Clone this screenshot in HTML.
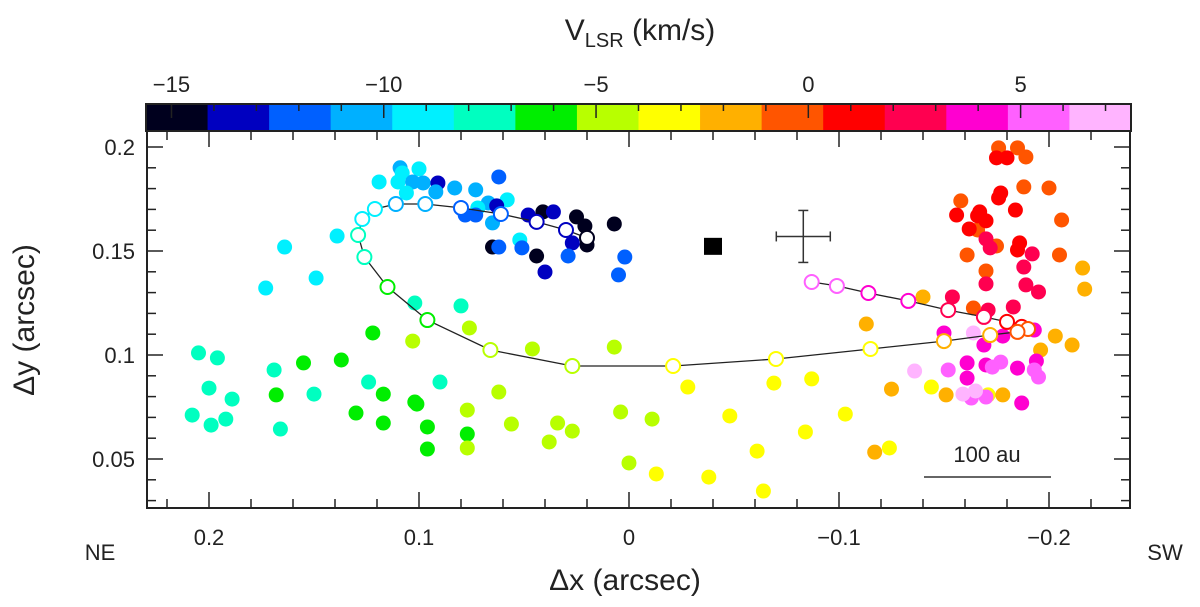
<!DOCTYPE html>
<html><head><meta charset="utf-8"><style>
html,body{margin:0;padding:0;background:#fff;}
svg{display:block;font-family:"Liberation Sans",sans-serif;}
</style></head><body>
<svg id="chart" width="1200" height="607" viewBox="0 0 1200 607" xmlns="http://www.w3.org/2000/svg">
<g id="cbar"></g>
<g id="axes"></g>
<g id="marks"></g>
<text x="640" y="40" font-size="30" text-anchor="middle" fill="#222">V<tspan font-size="20" dy="7">LSR</tspan><tspan dy="-7"> (km/s)</tspan></text>
<text x="625" y="590" font-size="30" text-anchor="middle" fill="#222">Δx (arcsec)</text>
<text x="0" y="0" font-size="30" text-anchor="middle" fill="#222" transform="translate(34,320) rotate(-90)">Δy (arcsec)</text>
<text x="100" y="560" font-size="22" text-anchor="middle" fill="#222">NE</text>
<text x="1165" y="560" font-size="22" text-anchor="middle" fill="#222">SW</text>
</svg>
<script>
// ---- data ----
const cbarColors = ["#00001e","#0000c0","#0060ff","#00b0ff","#00f0ff","#00ffc0","#00ee00","#b8ff00","#ffff00","#ffb000","#ff5500","#ff0000","#ff0050","#ff00d0","#ff60ff","#ffb4ff"];
const cbarTicks = [-15,-10,-5,0,5];
const xTicks = [0.2,0.1,0,-0.1,-0.2];
const yTicks = [0.05,0.1,0.15,0.2];
// filled points
const ptDx = [.109,.100,.119,.108,.110,.103,.098,.091,.092,.106,.083,.073,.062,.058,.067,.063,.072,.078,.073,.065,.048,.041,.036,.025,.021,.007,.020,.027,.065,.062,.052,.051,.044,.040,.029,.002,.005,.139,.164,.149,.173,
.102,.080,.205,.196,.169,.200,.189,.208,.199,.192,.166,.150,.124,.090,
.122,.155,.137,.168,.117,.102,.101,.130,.117,.096,.077,.096,
.076,.103,.046,.007,.062,.077,.056,.034,.027,.038,.077,.004,-.011,.000,
-.028,-.069,-.087,-.048,-.103,-.084,-.061,-.013,-.038,-.064,-.144,-.124,-.171,
-.117,-.125,-.151,-.178,-.113,-.140,-.216,-.217,-.203,-.211,-.196,
-.176,-.185,-.189,-.188,-.200,-.158,-.206,-.166,-.175,-.161,-.205,-.170,-.164,
-.175,-.180,-.177,-.176,-.184,-.156,-.167,-.166,-.170,-.162,-.186,-.185,
-.170,-.172,-.192,-.188,-.170,-.189,-.195,-.154,-.171,-.183,
-.150,-.178,-.193,-.169,-.161,-.170,-.194,-.185,-.161,-.187,
-.173,-.177,-.193,-.195,-.152,-.163,-.170,
-.164,-.136,-.159,-.165];
const ptDy = [.190,.1895,.1832,.1875,.1832,.1832,.1827,.1827,.1784,.1779,.1803,.1794,.1856,.1746,.1731,.1717,.1707,.1673,.1673,.1635,.1673,.1688,.1688,.1664,.1620,.1630,.1529,.1539,.1519,.1519,.1553,.1515,.1476,.1399,.1476,.1471,.1385,.1572,.1519,.1370,.1322,
.1250,.1236,.1010,.0986,.0928,.0841,.0788,.0711,.0663,.0692,.0644,.0812,.0870,.0870,
.1106,.0962,.0976,.0808,.0812,.0774,.0764,.0721,.0673,.0654,.0620,.0548,
.1130,.1067,.1029,.1038,.0822,.0735,.0668,.0673,.0634,.0582,.0553,.0726,.0692,.0481,
.0846,.0865,.0885,.0707,.0716,.0630,.0538,.0428,.0413,.0346,.0846,.0553,.0808,
.0533,.0836,.0808,.0808,.1149,.1279,.1418,.1317,.1091,.1048,.1024,
.1996,.1996,.1952,.1808,.1803,.1741,.1649,.1601,.1524,.1481,.1481,.1404,.1226,
.1948,.1948,.1779,.1755,.1697,.1673,.1688,.1669,.1645,.1606,.1539,.1505,
.1558,.1515,.1486,.1423,.1342,.1337,.1303,.1279,.1216,.1231,
.1106,.1091,.1120,.1048,.0962,.0952,.0971,.0937,.0889,.0769,
.0942,.0966,.0928,.0894,.0928,.0793,.0798,
.1106,.0923,.0812,.0827];
const ptV = [-10.5,-9.1,-9.1,-9.1,-9.1,-10.5,-10.5,-13.4,-10.5,-9.1,-10.5,-10.5,-12.0,-9.1,-10.5,-13.4,-9.1,-12.0,-12.0,-10.5,-13.4,-14.9,-13.4,-14.9,-14.9,-14.9,-14.9,-13.4,-14.9,-12.0,-9.1,-12.0,-14.9,-13.4,-12.0,-12.0,-12.0,-9.1,-9.1,-9.1,-9.1,
-7.6,-7.6,-7.6,-7.6,-7.6,-7.6,-7.6,-7.6,-7.6,-7.6,-7.6,-7.6,-7.6,-7.6,
-6.2,-6.2,-6.2,-6.2,-6.2,-6.2,-6.2,-6.2,-6.2,-6.2,-6.2,-6.2,
-4.7,-4.7,-4.7,-4.7,-4.7,-4.7,-4.7,-4.7,-4.7,-4.7,-4.7,-4.7,-4.7,-4.7,
-3.3,-3.3,-3.3,-3.3,-3.3,-3.3,-3.3,-3.3,-3.3,-3.3,-3.3,-3.3,-3.3,
-1.8,-1.8,-1.8,-1.8,-1.8,-1.8,-1.8,-1.8,-1.8,-1.8,-1.8,
-0.4,-0.4,-0.4,-0.4,-0.4,-0.4,-0.4,-0.4,-0.4,-0.4,-0.4,-0.4,-0.4,
1.1,1.1,1.1,1.1,1.1,1.1,1.1,1.1,1.1,1.1,1.1,1.1,
2.5,2.5,2.5,2.5,2.5,2.5,2.5,2.5,2.5,2.5,
4.0,4.0,4.0,4.0,4.0,4.0,4.0,4.0,4.0,4.0,
5.4,5.4,5.4,5.4,5.4,5.4,5.4,
6.9,6.9,6.9,6.9];
// model trajectory (open circles)
const trDx = [-.087,-.099,-.114,-.133,-.152,-.169,-.180,-.187,-.190,-.185,-.172,-.150,-.115,-.070,-.021,.027,.066,.096,.115,.126,.129,.127,.121,.111,.097,.080,.061,.044,.030,.020];
const trDy = [.1351,.1332,.1298,.1260,.1216,.1183,.1159,.1135,.1125,.1111,.1096,.1067,.1029,.0981,.0947,.0947,.1024,.1168,.1327,.1471,.1577,.1654,.1702,.1726,.1726,.1707,.1678,.1640,.1601,.1563];
const trV = [5.4,5.4,4.0,4.0,2.5,2.5,1.1,1.1,-0.4,-0.4,-1.8,-1.8,-3.3,-3.3,-3.3,-4.7,-4.7,-6.2,-6.2,-7.6,-7.6,-9.1,-9.1,-10.5,-10.5,-12.0,-12.0,-13.4,-13.4,-14.9];
const starDx = [-0.040], starDy = [0.152];
const errDx = [-0.083], errDy = [0.157];

// ---- geometry ----
const L=147,R=1130,T=131,B=508;
const X = d => 629 - 2100*d;
const Y = d => 355 - 2080*(d-0.1);
const vMin=-15.6, vMax=7.6, CL=146, CR=1131, CT=104, CB=131;
const V = v => CL + (v-vMin)/(vMax-vMin)*(CR-CL);
const color = v => { let i=Math.floor((v-vMin)/(vMax-vMin)*cbarColors.length); i=Math.max(0,Math.min(cbarColors.length-1,i)); return cbarColors[i]; };
const NS="http://www.w3.org/2000/svg";
function mk(tag, attrs, parent){ const e=document.createElementNS(NS,tag); for(const k in attrs) e.setAttribute(k,attrs[k]); parent.appendChild(e); return e; }

// colorbar
const cb=document.getElementById('cbar');
const bw=(CR-CL)/cbarColors.length;
cbarColors.forEach((c,i)=>{
  const r=mk('rect',{x:CL+i*bw,y:CT,width:bw+0.6,height:CB-CT,fill:c},cb);
  
  
});
mk('rect',{x:CL,y:CT,width:CR-CL,height:CB-CT,fill:'none',stroke:'#222','stroke-width':2},cb);
for(let v=-15; v<=7; v++){
  const major = v%5===0;
  mk('line',{x1:V(v),x2:V(v),y1:CT,y2:CT+(major?14:7),stroke:'#222','stroke-width':1.5},cb);
}
cbarTicks.forEach(v=>{
  const t=mk('text',{x:V(v),y:92,'font-size':22,'text-anchor':'middle',fill:'#222'},cb);
  t.textContent = v<0 ? '\u2212'+Math.abs(v) : String(v);
  
  
});

// axes
const ax=document.getElementById('axes');
mk('rect',{x:L,y:T,width:R-L,height:B-T,fill:'none',stroke:'#222','stroke-width':2},ax);
for(let k=-14;k<=12;k++){
  const d=k*0.02, px=X(d);
  if(px<L+1||px>R-1) continue;
  const major=Math.abs(Math.round(d*100)%10)===0;
  const len=major?16:9;
  mk('line',{x1:px,x2:px,y1:B,y2:B-len,stroke:'#222','stroke-width':1.5},ax);
  mk('line',{x1:px,x2:px,y1:T,y2:T+len,stroke:'#222','stroke-width':1.5},ax);
}
for(let k=2;k<=21;k++){
  const d=k*0.01, py=Y(d);
  if(py<T+1||py>B-1) continue;
  const major=k%5===0;
  const len=major?16:9;
  mk('line',{x1:L,x2:L+len,y1:py,y2:py,stroke:'#222','stroke-width':1.5},ax);
  mk('line',{x1:R,x2:R-len,y1:py,y2:py,stroke:'#222','stroke-width':1.5},ax);
}
xTicks.forEach(d=>{
  const t=mk('text',{x:X(d),y:545,'font-size':22,'text-anchor':'middle',fill:'#222'},ax);
  t.textContent = d<0 ? '\u2212'+Math.abs(d) : String(d);
  
  
});
yTicks.forEach(d=>{
  const t=mk('text',{x:135,y:Y(d)+8,'font-size':22,'text-anchor':'end',fill:'#222'},ax);
  t.textContent = String(d);
  
  
});

// marks
const mg=document.getElementById('marks');
ptDx.forEach((d,i)=>{
  const c=mk('circle',{cx:X(d),cy:Y(ptDy[i]),r:7.5,fill:color(ptV[i])},mg);
  
  
});
const path=trDx.map((d,i)=>(i?'L':'M')+X(d).toFixed(1)+','+Y(trDy[i]).toFixed(1)).join(' ');
const pl=mk('path',{d:path,fill:'none',stroke:'#222','stroke-width':1.3},mg);


trDx.forEach((d,i)=>{
  const c=mk('circle',{cx:X(d),cy:Y(trDy[i]),r:7,fill:'#fff',stroke:color(trV[i]),'stroke-width':2},mg);
  
  
});
// star position square
const sq=mk('rect',{x:X(starDx[0])-9,y:Y(starDy[0])-9,width:18,height:17,fill:'#000'},mg);


// error bar cross
const ex=X(errDx[0]), ey=Y(errDy[0]);
const eg=mk('g',{stroke:'#333','stroke-width':1.5},mg);


mk('line',{x1:ex-27,x2:ex+27,y1:ey,y2:ey},eg);
mk('line',{x1:ex,x2:ex,y1:ey-26,y2:ey+26},eg);
mk('line',{x1:ex-27,x2:ex-27,y1:ey-5,y2:ey+5},eg);
mk('line',{x1:ex+27,x2:ex+27,y1:ey-5,y2:ey+5},eg);
mk('line',{x1:ex-5,x2:ex+5,y1:ey-26,y2:ey-26},eg);
mk('line',{x1:ex-5,x2:ex+5,y1:ey+26,y2:ey+26},eg);
// scale bar
const sb=mk('line',{x1:924,x2:1051,y1:477,y2:477,stroke:'#333','stroke-width':1.5},mg);


const st=mk('text',{x:987,y:462,'font-size':22,'text-anchor':'middle',fill:'#222'},mg);
st.textContent='100 au';


</script>
</body></html>
